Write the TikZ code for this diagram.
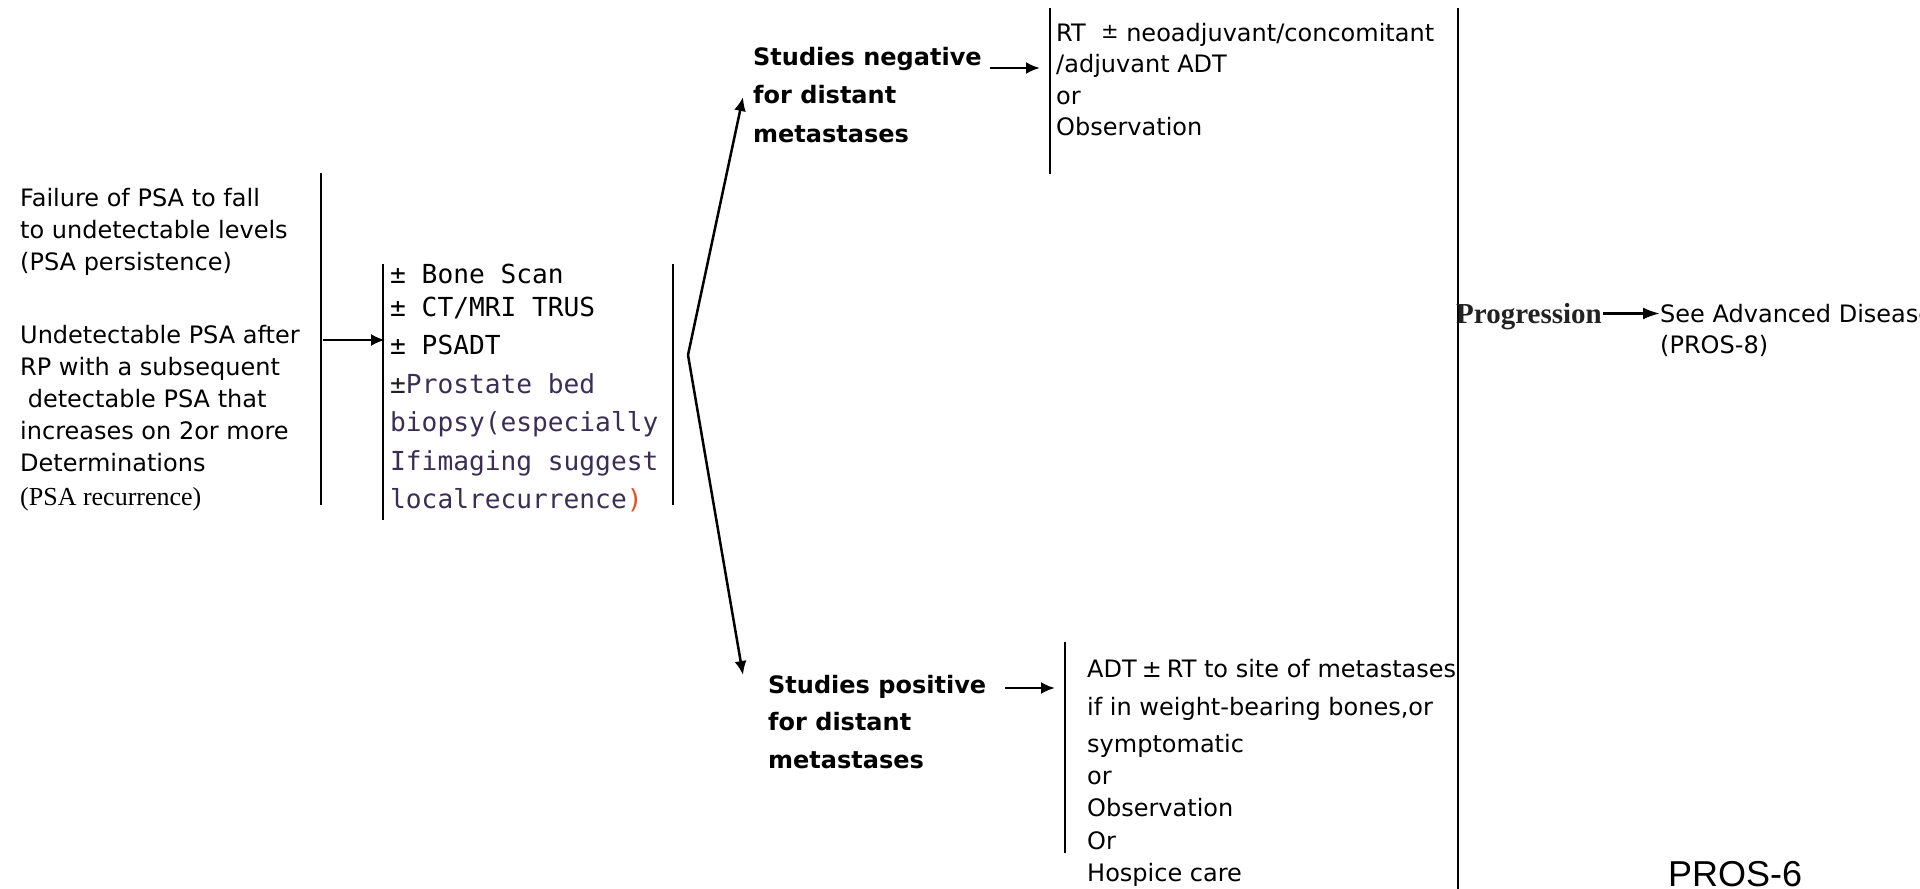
\documentclass[tikz,border=0pt]{standalone}
\usepackage{fontspec}
\setmainfont{DejaVu Sans}
\newfontfamily\monof{DejaVu Sans Mono}
\newfontfamily\serf{Liberation Serif}
\newfontfamily\arialf{Liberation Sans}
\usetikzlibrary{arrows.meta}
\definecolor{purp}{HTML}{3B2E55}
\definecolor{redp}{HTML}{F04A1A}
\definecolor{dgray}{HTML}{222222}
\begin{document}
\begin{tikzpicture}[x=1pt,y=-1pt,
  vline/.style={line width=2pt},
  arr/.style={line width=2.5pt,-{Latex[length=14pt,width=12pt]}},
  txt/.style={anchor=base west,inner sep=0pt,align=left},
  body/.style={txt,font=\fontsize{24}{32}\selectfont},
  boldtxt/.style={txt,font=\bfseries\fontsize{24}{38.5}\selectfont},
  monotxt/.style={txt,font=\monof\fontsize{26.2}{38.5}\selectfont}]
\useasboundingbox (0,0) rectangle (1920,889);
% (multi-line nodes are anchored at the baseline of their last line)

% left text
\node[body] (fail) at (20,270) {Failure of PSA to fall\\to undetectable levels\\(PSA persistence)};
\node[body] (undet) at (20,505) {Undetectable PSA after\\RP with a subsequent\\\hspace*{7.6pt}detectable PSA that\\increases on 2or more\\Determinations\\[2pt]{\serf\fontsize{26}{32}\selectfont(PSA recurrence)}};

% vertical lines
\coordinate (l1t) at (321,173); \coordinate (l1b) at (321,505);
\draw[vline] (l1t) -- (l1b);
\coordinate (l2t) at (383,264); \coordinate (l2b) at (383,520);
\draw[vline] (l2t) -- (l2b);
\coordinate (l3t) at (673,264); \coordinate (l3b) at (673,505);
\draw[vline] (l3t) -- (l3b);
\coordinate (l4t) at (1050,8); \coordinate (l4b) at (1050,174);
\draw[vline] (l4t) -- (l4b);
\coordinate (l5t) at (1458,8); \coordinate (l5b) at (1458,889);
\draw[vline] (l5t) -- (l5b);
\coordinate (l6t) at (1065,642); \coordinate (l6b) at (1065,853);
\draw[vline] (l6t) -- (l6b);

% arrow into workup
\coordinate (a1s) at (323,340); \coordinate (a1e) at (385,340);
\draw[arr] (a1s) -- (a1e);

% workup text
\node[monotxt] (workup) at (390,508.5) {± Bone Scan\\[-5.5pt]± CT/MRI TRUS\\± PSADT\\{\color{dgray}±}{\color{purp}Prostate bed}\\{\color{purp}biopsy(especially}\\{\color{purp}Ifimaging suggest}\\{\color{purp}localrecurrence}{\color{redp})}};

% branching
\coordinate (br) at (688,355);
\coordinate (negtip) at (743,97);
\coordinate (postip) at (743,675);
\draw[arr] (br) -- (negtip);
\draw[arr] (br) -- (postip);

% negative studies
\node[boldtxt] (neg) at (753,142) {Studies negative\\for distant\\metastases};
\coordinate (a2s) at (990,68); \coordinate (a2e) at (1040,68);
\draw[arr] (a2s) -- (a2e);
\node[txt,font=\fontsize{24}{31.5}\selectfont] (rt) at (1056,135.5) {RT\ \ \raisebox{3pt}{\fontsize{21}{21}\selectfont ±} neoadjuvant/concomitant\\/adjuvant ADT\\or\\Observation};

% positive studies
\node[txt,font=\bfseries\fontsize{24}{37.5}\selectfont] (pos) at (768,768) {Studies positive\\for distant\\metastases};
\coordinate (a3s) at (1005,688); \coordinate (a3e) at (1055,688);
\draw[arr] (a3s) -- (a3e);
\node[txt,font=\fontsize{24}{32.3}\selectfont] (adt) at (1087,881.5) {ADT\hspace{5pt}±\hspace{5pt}RT to site of metastases\\[5.5pt]if in weight-bearing bones,or\\[5pt]symptomatic\\or\\Observation\\Or\\Hospice care};

% progression
\node[txt,font=\serf\bfseries\fontsize{29}{29}\selectfont,text=dgray] (prog) at (1456,323) {Progression};
\coordinate (a4s) at (1603,313.5); \coordinate (a4e) at (1660,313.5);
\draw[line width=2.5pt,-{Latex[length=17pt,width=12pt]}] (a4s) -- (a4e);
\node[txt,font=\fontsize{24}{31.5}\selectfont] (adv) at (1660,353.5) {See Advanced Disease\\(PROS-8)};

\node[txt,font=\arialf\fontsize{36}{36}\selectfont] (pros) at (1668,886) {PROS-6};
\end{tikzpicture}
\end{document}
